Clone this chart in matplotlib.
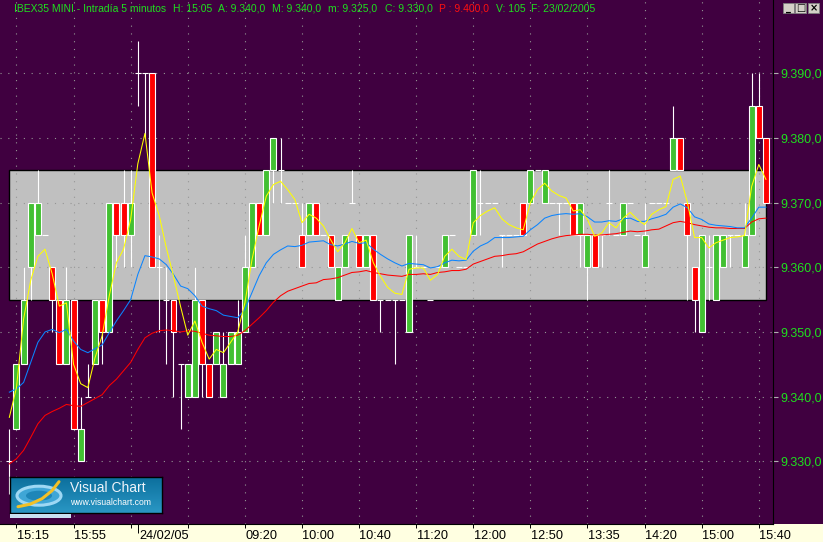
import numpy as np
import matplotlib.pyplot as plt
from matplotlib.patches import Rectangle, Ellipse
from matplotlib.colors import LinearSegmentedColormap

plt.rcParams['font.family'] = ['Liberation Sans', 'DejaVu Sans']

W, H = 823, 542

# 5-minute candles, prices in index points (9.390,0 -> 9390)
opens = [
    9330, 9335, 9345, 9360, 9365, 9365, 9360, 9355, 9345, 9355,
    9330, 9340, 9345, 9355, 9350, 9370, 9370, 9365, 9390, 9390,
    9390, 9360, 9355, 9355, 9345, 9340, 9340, 9355, 9345, 9345,
    9340, 9345, 9345, 9350, 9360, 9370, 9365, 9375, 9375, 9370,
    9370, 9365, 9365, 9370, 9365, 9365, 9355, 9360, 9370, 9365,
    9360, 9365, 9355, 9355, 9355, 9355, 9350, 9360, 9360, 9355,
    9360, 9360, 9365, 9360, 9360, 9365, 9370, 9370, 9370, 9365,
    9365, 9365, 9370, 9370, 9375, 9370, 9370, 9370, 9370, 9370,
    9365, 9360, 9365, 9365, 9370, 9365, 9365, 9370, 9365, 9360,
    9370, 9370, 9370, 9375, 9380, 9370, 9360, 9350, 9360, 9355,
    9360, 9365, 9365, 9360, 9365, 9385, 9380]
highs = [
    9335, 9345, 9360, 9370, 9375, 9365, 9360, 9355, 9360, 9355,
    9340, 9345, 9355, 9355, 9370, 9370, 9375, 9375, 9395, 9390,
    9390, 9365, 9360, 9355, 9345, 9345, 9360, 9355, 9345, 9350,
    9350, 9350, 9355, 9365, 9370, 9370, 9375, 9380, 9380, 9370,
    9370, 9370, 9370, 9370, 9365, 9365, 9360, 9365, 9375, 9365,
    9365, 9365, 9355, 9355, 9355, 9355, 9365, 9365, 9360, 9355,
    9360, 9365, 9365, 9360, 9360, 9375, 9375, 9370, 9370, 9365,
    9365, 9365, 9370, 9375, 9375, 9375, 9370, 9370, 9370, 9370,
    9370, 9365, 9365, 9365, 9375, 9365, 9370, 9370, 9365, 9370,
    9370, 9370, 9370, 9385, 9380, 9370, 9360, 9365, 9365, 9365,
    9365, 9365, 9365, 9370, 9390, 9390, 9380]
lows = [
    9325, 9335, 9345, 9355, 9365, 9365, 9350, 9345, 9345, 9335,
    9330, 9340, 9345, 9345, 9350, 9360, 9360, 9360, 9385, 9380,
    9360, 9350, 9345, 9340, 9335, 9340, 9340, 9340, 9340, 9345,
    9340, 9345, 9345, 9350, 9360, 9365, 9365, 9370, 9370, 9370,
    9370, 9360, 9365, 9365, 9365, 9360, 9355, 9360, 9370, 9360,
    9360, 9355, 9350, 9355, 9345, 9355, 9350, 9360, 9360, 9355,
    9360, 9360, 9365, 9360, 9360, 9365, 9365, 9370, 9370, 9360,
    9365, 9365, 9365, 9370, 9375, 9370, 9370, 9365, 9370, 9365,
    9360, 9355, 9360, 9360, 9365, 9365, 9365, 9370, 9365, 9360,
    9370, 9370, 9370, 9375, 9375, 9355, 9350, 9350, 9355, 9355,
    9360, 9360, 9365, 9360, 9365, 9380, 9370]
closes = [
    9330, 9345, 9355, 9370, 9370, 9365, 9355, 9345, 9355, 9335,
    9335, 9340, 9355, 9350, 9370, 9365, 9365, 9370, 9390, 9390,
    9360, 9360, 9355, 9350, 9345, 9345, 9355, 9345, 9340, 9350,
    9345, 9350, 9350, 9360, 9370, 9365, 9375, 9380, 9375, 9370,
    9370, 9360, 9370, 9365, 9365, 9360, 9360, 9365, 9370, 9360,
    9365, 9355, 9355, 9355, 9355, 9355, 9365, 9360, 9360, 9355,
    9360, 9365, 9365, 9360, 9360, 9375, 9370, 9370, 9370, 9365,
    9365, 9365, 9365, 9375, 9375, 9375, 9370, 9370, 9370, 9365,
    9370, 9365, 9360, 9365, 9370, 9365, 9370, 9370, 9365, 9365,
    9370, 9370, 9370, 9380, 9375, 9365, 9355, 9365, 9360, 9365,
    9365, 9365, 9365, 9365, 9385, 9380, 9370]

# moving averages
ma_fast = [
    9336.8, 9341.4, 9352.0, 9358.0, 9361.7, 9362.8, 9359.0, 9354.0, 9354.5, 9345.0,
    9342.0, 9341.4, 9346.0, 9349.4, 9355.6, 9360.7, 9362.8, 9367.4, 9376.0, 9380.7,
    9371.5, 9368.0, 9363.0, 9358.6, 9353.9, 9349.5, 9351.7, 9348.4, 9345.8, 9347.3,
    9346.8, 9348.4, 9350.0, 9354.5, 9361.2, 9366.4, 9371.0, 9372.8, 9373.3, 9372.0,
    9370.5, 9366.9, 9368.2, 9367.6, 9366.4, 9364.3, 9362.4, 9363.8, 9366.0, 9363.8,
    9364.2, 9360.7, 9358.6, 9356.9, 9356.0, 9355.8, 9359.7, 9359.9, 9359.9, 9358.0,
    9358.9, 9361.7, 9362.8, 9361.7, 9361.2, 9366.9, 9368.0, 9368.7, 9369.2, 9367.5,
    9366.6, 9366.1, 9365.8, 9370.0, 9372.0, 9373.0, 9371.8, 9371.1, 9370.7, 9368.7,
    9368.9, 9367.4, 9364.8, 9365.3, 9366.9, 9366.1, 9367.6, 9368.5, 9367.4, 9366.6,
    9368.2, 9368.9, 9369.4, 9373.6, 9374.1, 9370.0, 9364.6, 9364.6, 9363.0, 9363.8,
    9364.2, 9364.6, 9364.7, 9364.9, 9372.5, 9375.9, 9373.6]
ma_mid = [
    9340.7, 9341.2, 9342.2, 9345.3, 9348.4, 9350.0, 9350.4, 9349.9, 9350.4, 9348.6,
    9347.3, 9346.8, 9347.4, 9348.0, 9349.9, 9351.7, 9353.3, 9355.0, 9358.9, 9361.8,
    9361.6, 9361.3, 9360.4, 9358.9, 9357.1, 9356.7, 9355.6, 9354.0, 9353.6, 9353.3,
    9352.6, 9352.4, 9352.2, 9353.5, 9356.1, 9358.7, 9360.7, 9362.0, 9362.7, 9363.3,
    9363.2, 9363.4, 9363.9, 9364.0, 9364.1, 9363.5, 9363.3, 9363.6, 9364.0, 9363.7,
    9363.8, 9362.8, 9362.0, 9361.3, 9360.7, 9360.2, 9360.6, 9360.5, 9360.4, 9359.9,
    9360.1, 9360.7, 9361.1, 9361.0, 9361.1, 9362.5, 9363.3, 9363.8, 9364.6, 9364.6,
    9364.6, 9364.7, 9364.8, 9365.8, 9366.6, 9367.6, 9368.0, 9368.2, 9368.3, 9368.2,
    9368.3, 9367.8, 9367.0, 9367.0, 9367.2, 9367.1, 9367.5, 9367.6, 9367.1, 9367.1,
    9367.5, 9367.8, 9368.2, 9369.3, 9369.8, 9369.2, 9367.8, 9367.4, 9366.7, 9366.5,
    9366.4, 9366.3, 9366.1, 9366.1, 9367.6, 9369.3, 9369.3]
ma_slow = [
    9329.6, 9330.4, 9331.7, 9333.7, 9335.8, 9337.1, 9337.7, 9338.2, 9338.8, 9338.6,
    9338.5, 9339.1, 9339.7, 9340.3, 9341.7, 9342.7, 9344.0, 9345.3, 9347.3, 9349.1,
    9349.8, 9350.2, 9350.3, 9350.2, 9350.0, 9350.2, 9350.1, 9349.8, 9349.5, 9349.4,
    9349.3, 9349.3, 9349.5, 9350.2, 9351.2, 9352.2, 9353.3, 9354.6, 9355.6, 9356.3,
    9356.7, 9357.1, 9357.5, 9357.6, 9358.1, 9358.2, 9358.4, 9358.8, 9359.2, 9359.3,
    9359.5, 9359.2, 9359.0, 9358.8, 9358.7, 9358.6, 9358.9, 9358.9, 9359.0, 9358.9,
    9359.2, 9359.3, 9359.5, 9359.5, 9359.7, 9360.5, 9360.9, 9361.3, 9361.7, 9361.8,
    9362.0, 9362.1, 9362.4, 9363.0, 9363.6, 9364.0, 9364.4, 9364.7, 9364.9, 9365.0,
    9365.1, 9365.1, 9365.0, 9365.0, 9365.1, 9365.2, 9365.4, 9365.6, 9365.5, 9365.6,
    9365.8, 9365.9, 9366.4, 9366.9, 9367.1, 9366.9, 9366.6, 9366.4, 9366.2, 9366.1,
    9366.1, 9366.0, 9366.0, 9366.0, 9367.0, 9367.5, 9367.6]

price_ticks = [9330, 9340, 9350, 9360, 9370, 9380, 9390]
price_labels = ["9.330,0", "9.340,0", "9.350,0", "9.360,0", "9.370,0", "9.380,0", "9.390,0"]
time_ticks = [1, 9, 17, 25, 33, 41, 49, 57, 65, 73, 81, 89, 97, 105]
time_labels = ["15:15", "15:55", "", "", "09:20", "10:00", "10:40", "11:20",
               "12:00", "12:50", "13:35", "14:20", "15:00", "15:40"]
date_tick = 18
date_label = "24/02/05"
band_low, band_high = 9355, 9375

bg = "#400040"
green = "#42C032"
text_green = "#1EE01E"

fig = plt.figure(figsize=(W / 100, H / 100), dpi=100, facecolor=bg)
ax = fig.add_axes([0, 18 / H, 773 / W, 524 / H], facecolor=bg)
ax.set_xlim(-1.307, 106.99)
ax.set_ylim(9320.31, 9401.33)

# grey band
ax.add_patch(Rectangle((0, band_low), 106, band_high - band_low,
                       facecolor="#C0C0C0", edgecolor="black", lw=1, zorder=1))

# dotted grid
for p in price_ticks:
    ax.axhline(p, color="#959595", lw=0.8, ls=(0, (1, 6)), zorder=2)
for t in time_ticks:
    ax.axvline(t, color="#959595", lw=0.8, ls=(0, (1, 6)), zorder=2)

xs = np.arange(len(closes))
o = np.array(opens)
c = np.array(closes)
hi = np.array(highs)
lo = np.array(lows)

wick = hi > lo
ax.vlines(xs[wick], lo[wick], hi[wick], colors="white", lw=0.8, zorder=3)
body_colors = [green if cc > oo else "red" for oo, cc in zip(o, c)]
ax.bar(xs, c - o, bottom=o, width=0.84, color=body_colors,
       edgecolor="white", linewidth=0.8, zorder=4)

ax.plot(xs, ma_slow, color="#FF0000", lw=0.75, zorder=5)
ax.plot(xs, ma_mid, color="#0A84FF", lw=0.75, zorder=5)
ax.plot(xs, ma_fast, color="#FFFF00", lw=0.75, zorder=6)

for s in ["top", "left"]:
    ax.spines[s].set_visible(False)
ax.spines["right"].set_color("black")
ax.spines["bottom"].set_color("black")

ax.yaxis.tick_right()
ax.set_yticks(price_ticks, price_labels)
ax.tick_params(axis="y", length=3.6, width=0.8, color="#B0B0B0",
               labelcolor=text_green, labelsize=9, pad=2.0)

ax.set_xticks(time_ticks)
ax.set_xticklabels([])
ax.set_xticks([date_tick], minor=True)
ax.tick_params(axis="x", which="major", length=2.6, width=0.7, color="black")
ax.tick_params(axis="x", which="minor", length=6.7, width=0.7, color="black")

lab_y = -(536.0 - 524) / 524
for t, s in zip(time_ticks, time_labels):
    if s:
        ax.text(t + 0.05, lab_y, s, transform=ax.get_xaxis_transform(),
                ha="left", va="center", fontsize=9.2, color="black", clip_on=False)
ax.text(date_tick + 0.2, lab_y, date_label, transform=ax.get_xaxis_transform(),
        ha="left", va="center", fontsize=9.2, color="black", clip_on=False)

# light yellow time band
fig.patches.append(Rectangle((0, 0), 1, 18 / H, transform=fig.transFigure,
                             facecolor="#FFFFE1", edgecolor="none", zorder=-1))

# header line
header = [
    (14, "IBEX35 MINI - Intradía 5 minutos", text_green),
    (173, "H: 15:05", text_green),
    (218, "A: 9.340,0", text_green),
    (272, "M: 9.340,0", text_green),
    (328, "m: 9.325,0", text_green),
    (385, "C: 9.330,0", text_green),
    (439, "P : 9.400,0", "#FF1010"),
    (496, "V: 105", text_green),
    (531, "F: 23/02/2005", text_green),
]
for px, s, col in header:
    fig.text(px / W, 1 - 11.5 / H, s, color=col, fontsize=7.5, va="baseline")

# window buttons
for bx, glyph in [(783, "_"), (795, "□"), (808, "×")]:
    fig.patches.append(Rectangle((bx / W, 1 - 13 / H), 11 / W, 10 / H,
                                 transform=fig.transFigure, facecolor="#D4D0C8",
                                 edgecolor="#808080", lw=0.6))
    fig.text((bx + 5.5) / W, 1 - 8 / H, glyph, color="black", fontsize=7,
             ha="center", va="center", family=["DejaVu Sans"], weight="bold")

# Visual Chart logo
lg = fig.add_axes([10 / W, 1 - 513.3 / H, 152 / W, 36.6 / H])
grad = np.linspace(0, 1, 50).reshape(-1, 1)
cmap = LinearSegmentedColormap.from_list("vc", ["#0B6E9C", "#2A97C4"])
lg.imshow(grad, extent=[0, 152, 36.6, 0], aspect="auto", cmap=cmap)
lg.set_xlim(0, 152)
lg.set_ylim(36.6, 0)
lg.set_xticks([])
lg.set_yticks([])
for s in lg.spines.values():
    s.set_color("black")
    s.set_linewidth(1)
lg.add_patch(Ellipse((29, 19), 44, 19, facecolor="#3FA6D6", edgecolor="#9ED8F4", lw=2.2))
lg.add_patch(Ellipse((29, 19), 26, 10, facecolor="#1E86B8", edgecolor="none"))
lg.plot([8, 20, 32, 42, 49], [30, 27.5, 22, 14, 5], color="#F2C026", lw=2.2,
        solid_capstyle="round")
lg.text(60, 11.5, "Visual Chart", color="#EEF4FA", fontsize=10, va="center", ha="left")
lg.text(60, 25.5, "www.visualchart.com", color="white", fontsize=6.2, va="center", ha="left")
fig.patches.append(Rectangle((10 / W, 1 - 518 / H), 61 / W, 4 / H,
                             transform=fig.transFigure, facecolor="#C8E0F0",
                             edgecolor="none"))

fig.savefig("out.png", dpi=100, facecolor=bg)
